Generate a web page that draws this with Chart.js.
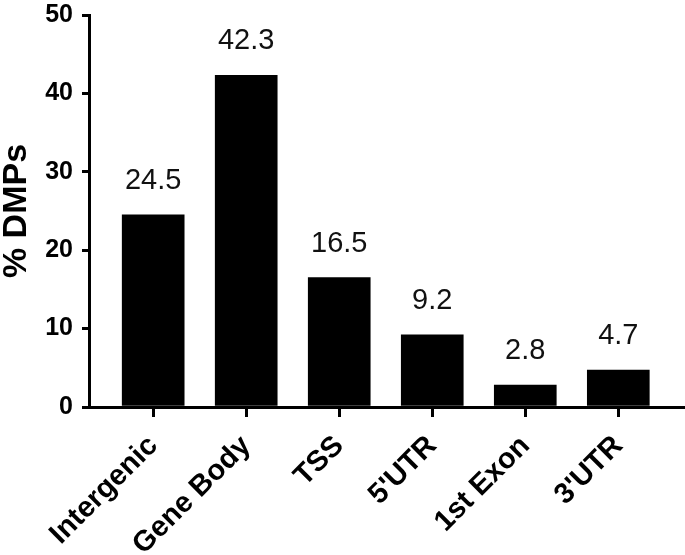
<!DOCTYPE html>
<html>
<head>
<meta charset="utf-8">
<script src="https://cdn.jsdelivr.net/npm/chart.js@4/dist/chart.umd.min.js"></script>
<style>
  html, body { margin: 0; padding: 0; background: #fff; }
  canvas { display: block; }
</style>
</head>
<body>
<canvas id="chart" width="685" height="555"></canvas>
<script>
// ---- data ----
const categories = ['Intergenic', 'Gene Body', 'TSS', "5'UTR", '1st Exon', "3'UTR"];
const values = [24.5, 42.3, 16.5, 9.2, 2.8, 4.7];
const yTicks = [0, 10, 20, 30, 40, 50];

const FONT = 'Arial, "Liberation Sans", Helvetica, sans-serif';

// value written above each bar
const barValueLabels = {
    id: 'barValueLabels',
    afterDatasetsDraw(chart) {
        const ctx = chart.ctx;
        const meta = chart.getDatasetMeta(0);
        ctx.save();
        ctx.font = '29px ' + FONT;
        ctx.fillStyle = '#111';
        ctx.textAlign = 'center';
        ctx.textBaseline = 'alphabetic';
        meta.data.forEach((bar, i) => {
            ctx.fillText(values[i].toFixed(1), bar.x, bar.y - 26);
        });
        ctx.restore();
    }
};

new Chart(document.getElementById('chart'), {
    type: 'bar',
    data: {
        datasets: [{
            data: values.map((v, i) => ({ x: i, y: v })),
            backgroundColor: '#000',
            borderWidth: 0,
            barThickness: 62
        }]
    },
    options: {
        responsive: false,
        animation: false,
        layout: { padding: 0 },
        plugins: {
            legend: { display: false },
            tooltip: { enabled: false }
        },
        scales: {
            x: {
                type: 'linear',
                offset: false,
                min: -0.69,
                max: 5.717,
                afterBuildTicks: s => { s.ticks = categories.map((c, i) => ({ value: i })); },
                afterFit: s => { s.height = 148; },
                border: { display: true, color: '#000', width: 3 },
                grid: {
                    display: true,
                    offset: false,
                    drawOnChartArea: false,
                    drawTicks: true,
                    tickLength: 10,
                    tickWidth: 3,
                    tickColor: '#000',
                    color: '#000',
                    lineWidth: 3
                },
                ticks: {
                    autoSkip: false,
                    maxRotation: 45,
                    minRotation: 45,
                    padding: 12,
                    color: '#000',
                    font: { family: FONT, size: 29, weight: 'bold' },
                    callback: v => categories[v] ?? ''
                }
            },
            y: {
                min: 0,
                max: 50,
                afterBuildTicks: s => { s.ticks = yTicks.map(v => ({ value: v })); },
                afterFit: s => { s.width = 89; s.paddingTop = 15; s.paddingBottom = 15; },
                border: { display: true, color: '#000', width: 3 },
                grid: {
                    display: true,
                    drawOnChartArea: false,
                    drawTicks: true,
                    tickLength: 7,
                    tickWidth: 3,
                    tickColor: '#000',
                    color: '#000',
                    lineWidth: 3
                },
                ticks: {
                    padding: 9,
                    color: '#000',
                    font: { family: FONT, size: 25, weight: 'bold' }
                },
                title: {
                    display: true,
                    text: '% DMPs',
                    color: '#000',
                    padding: { top: 0, bottom: 0 },
                    font: { family: FONT, size: 34, weight: 'bold', lineHeight: 1 }
                }
            }
        }
    },
    plugins: [barValueLabels]
});
</script>
</body>
</html>
